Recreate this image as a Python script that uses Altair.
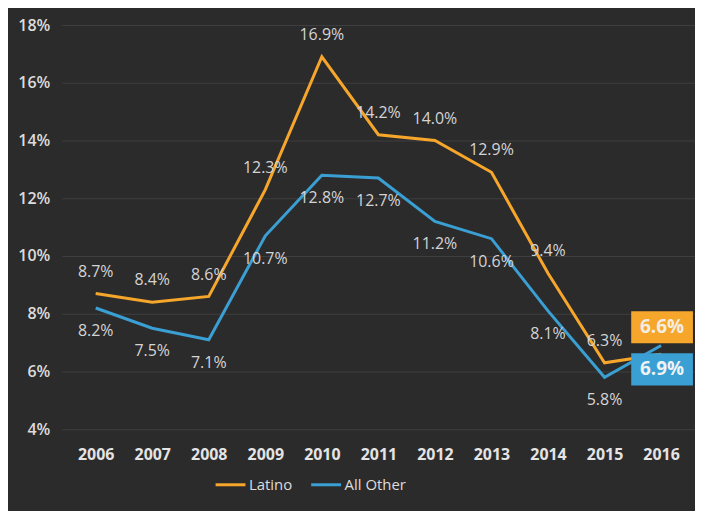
import altair as alt
import pandas as pd

years = [2006, 2007, 2008, 2009, 2010, 2011, 2012, 2013, 2014, 2015, 2016]
latino = [8.7, 8.4, 8.6, 12.3, 16.9, 14.2, 14.0, 12.9, 9.4, 6.3, 6.6]
all_other = [8.2, 7.5, 7.1, 10.7, 12.8, 12.7, 11.2, 10.6, 8.1, 5.8, 6.9]
series = ["Latino", "All Other"]
colors = ["#f6a72b", "#3a9fd3"]
y_ticks = [4, 6, 8, 10, 12, 14, 16, 18]

rows = []
for name, vals in zip(series, [latino, all_other]):
    for yr, v in zip(years, vals):
        rows.append({"year": yr, "value": v, "series": name, "label": f"{v:.1f}%"})
df = pd.DataFrame(rows)

FONT = "Open Sans"
x = alt.X("year:O", scale=alt.Scale(type="point", padding=0.6),
          axis=alt.Axis(title=None, labelAngle=0, ticks=False, domain=False, grid=False,
                        labelFontSize=16, labelFontWeight="bold", labelColor="#e4e4e4",
                        labelPadding=17, labelFont=FONT))
y = alt.Y("value:Q", scale=alt.Scale(domain=[4, 18], nice=False, zero=False),
          axis=alt.Axis(title=None, values=y_ticks, labelExpr="datum.value + '%'",
                        ticks=False, domain=False, grid=True, gridColor="#3f3e3f",
                        gridWidth=1, labelFontSize=16, labelFontWeight=600,
                        labelColor="#dcdcdc", labelPadding=12, labelFont=FONT))
color = alt.Color("series:N", scale=alt.Scale(domain=series, range=colors),
                  legend=alt.Legend(title=None, orient="none", direction="horizontal",
                                    legendX=153, legendY=445, symbolType="stroke",
                                    symbolSize=900, symbolStrokeWidth=3, labelFontSize=15,
                                    labelColor="#dcdcdc", labelFont=FONT, labelOffset=2,
                                    columnPadding=12))

base = alt.Chart(df)
lines = base.mark_line(strokeWidth=3).encode(x=x, y=y, color=color)

lab_l = base.transform_filter("datum.series == 'Latino' && datum.year < 2016").mark_text(
    dy=-22, fontSize=16, color="#d4d4d4", font=FONT).encode(x=x, y=y, text="label:N")
lab_o = base.transform_filter("datum.series == 'All Other' && datum.year < 2016").mark_text(
    dy=23, fontSize=16, color="#d4d4d4", font=FONT).encode(x=x, y=y, text="label:N")

box_shape = "M-1,-0.52L1,-0.52L1,0.52L-1,0.52Z"
box_l = base.transform_filter("datum.series == 'Latino' && datum.year == 2016").mark_point(
    shape=box_shape, size=3844, filled=True, opacity=1, color=colors[0], yOffset=-27, xOffset=1
).encode(x=x, y=y)
box_o = base.transform_filter("datum.series == 'All Other' && datum.year == 2016").mark_point(
    shape=box_shape, size=3844, filled=True, opacity=1, color=colors[1], yOffset=24, xOffset=1
).encode(x=x, y=y)
txt_l = base.transform_filter("datum.series == 'Latino' && datum.year == 2016").mark_text(
    dy=-27, dx=1, fontSize=19, fontWeight="bold", color="#f3ede3", font=FONT
).encode(x=x, y=y, text="label:N")
txt_o = base.transform_filter("datum.series == 'All Other' && datum.year == 2016").mark_text(
    dy=24, dx=1, fontSize=19, fontWeight="bold", color="#eef2f4", font=FONT
).encode(x=x, y=y, text="label:N")

chart = alt.layer(lines, lab_l, lab_o, box_l, box_o, txt_l, txt_o).properties(
    width=636, height=406,
    autosize=alt.AutoSizeParams(type="none"),
    padding={"left": 54, "top": 16, "right": 0, "bottom": 81},
    background="#2c2b2c",
).configure_view(stroke=None)

chart.save("out.html", embed_options={"renderer": "svg", "actions": False})
